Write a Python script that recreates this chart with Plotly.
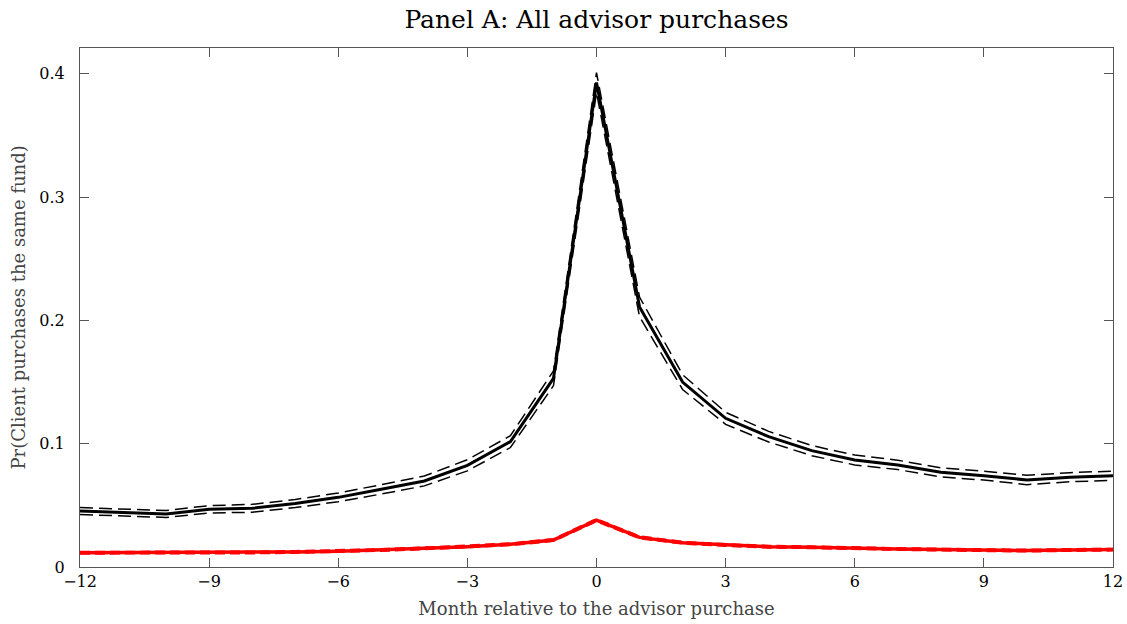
import plotly.graph_objects as go

months = list(range(-12, 13))

all_mean = [0.0454, 0.0445, 0.0430, 0.0468, 0.0476, 0.0515, 0.0565, 0.0630, 0.0698, 0.0825, 0.1017,
            0.1530, 0.3930,
            0.2110, 0.1500, 0.1206, 0.1057, 0.0944, 0.0868, 0.0828, 0.0768, 0.0741, 0.0706, 0.0728, 0.0741]
all_upper = [0.0482, 0.0473, 0.0458, 0.0498, 0.0508, 0.0548, 0.0600, 0.0668, 0.0738, 0.0870, 0.1065,
             0.1590, 0.4010,
             0.2190, 0.1560, 0.1255, 0.1100, 0.0985, 0.0908, 0.0866, 0.0805, 0.0777, 0.0744, 0.0765, 0.0778]
all_lower = [0.0426, 0.0417, 0.0402, 0.0438, 0.0444, 0.0482, 0.0530, 0.0592, 0.0658, 0.0780, 0.0969,
             0.1470, 0.3850,
             0.2030, 0.1440, 0.1157, 0.1014, 0.0903, 0.0828, 0.0790, 0.0731, 0.0705, 0.0668, 0.0691, 0.0704]

client_mean = [0.0116, 0.0116, 0.0115, 0.0117, 0.0118, 0.0122, 0.0127, 0.0138, 0.0151, 0.0165, 0.0184,
               0.0219, 0.0380,
               0.0240, 0.0197, 0.0178, 0.0165, 0.0160, 0.0151, 0.0146, 0.0141, 0.0138, 0.0133, 0.0138, 0.0141]
client_upper = [0.0126, 0.0126, 0.0125, 0.0127, 0.0128, 0.0132, 0.0137, 0.0148, 0.0161, 0.0175, 0.0194,
                0.0230, 0.0392,
                0.0251, 0.0207, 0.0188, 0.0175, 0.0170, 0.0161, 0.0156, 0.0151, 0.0148, 0.0143, 0.0148, 0.0151]
client_lower = [0.0106, 0.0106, 0.0105, 0.0107, 0.0108, 0.0112, 0.0117, 0.0128, 0.0141, 0.0155, 0.0174,
                0.0208, 0.0368,
                0.0229, 0.0187, 0.0168, 0.0155, 0.0150, 0.0141, 0.0136, 0.0131, 0.0128, 0.0123, 0.0128, 0.0131]

x_ticks = [-12, -9, -6, -3, 0, 3, 6, 9, 12]
y_ticks = [0, 0.1, 0.2, 0.3, 0.4]
y_tick_text = ["0", "0.1", "0.2", "0.3", "0.4"]

FONT = "DejaVu Serif"
W, H = 1127, 624
L, R, T, B = 80, 14, 48, 57

fig = go.Figure()

def add(y, color, width, dash):
    fig.add_trace(go.Scatter(x=months, y=y, mode="lines",
                             line=dict(color=color, width=width, dash=dash),
                             showlegend=False, hoverinfo="skip"))

add(client_upper, "#ff0000", 1.5, "10px,5px")
add(client_lower, "#ff0000", 1.5, "10px,5px")
add(client_mean, "#ff0000", 3.5, "solid")
add(all_upper, "black", 1.5, "13px,6px")
add(all_lower, "black", 1.5, "13px,6px")
add(all_mean, "black", 3, "solid")

axis_common = dict(showline=True, linecolor="#555555", linewidth=1, mirror="ticks",
                   ticks="inside", ticklen=9, tickcolor="#555555", tickwidth=1,
                   showgrid=False, zeroline=False, automargin=False,
                   tickfont=dict(family=FONT, size=16, color="black"))

plot_w = W - L - R

fig.update_layout(
    width=W, height=H,
    margin=dict(l=L, r=R, t=T, b=B, autoexpand=False),
    plot_bgcolor="white", paper_bgcolor="white",
    title=dict(text="Panel A: All advisor purchases", x=(L + W - R) / 2 / W, xanchor="center",
               y=1 - 19 / H, yanchor="middle", yref="container",
               font=dict(family=FONT, size=25, color="black")),
    xaxis=dict(range=[-12, 12], tickvals=x_ticks,
               title=dict(text="Month relative to the advisor purchase", standoff=12,
                          font=dict(family=FONT, size=18, color="#444444")),
               **axis_common),
    yaxis=dict(range=[0, 0.421], tickvals=y_ticks, ticktext=y_tick_text,
               ticklabelstandoff=11,
               **axis_common),
    annotations=[dict(text="Pr(Client purchases the same fund)", textangle=-90,
                      xref="paper", yref="paper", x=(18 - L) / plot_w, y=0.5,
                      xanchor="center", yanchor="middle", showarrow=False,
                      font=dict(family=FONT, size=18, color="#444444"))],
)

fig.write_html("out.html", config={"displayModeBar": False},
               post_script="document.body.style.margin='0';document.body.style.overflow='hidden';")
